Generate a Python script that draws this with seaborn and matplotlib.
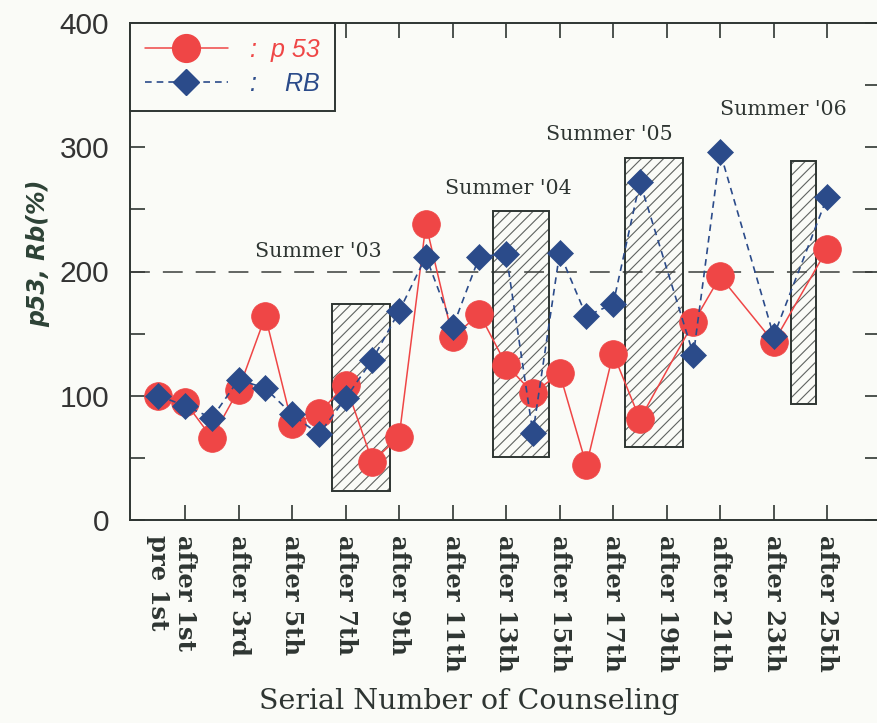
import numpy as np
import seaborn as sns
import matplotlib.pyplot as plt
from matplotlib.lines import Line2D
from matplotlib.ticker import MultipleLocator

# counseling sessions (0 = pre 1st, k = after k-th); 19, 22, 24 were not measured
session = [0, 1, 2, 3, 4, 5, 6, 7, 8, 9, 10, 11, 12, 13, 14, 15, 16, 17, 18, 20, 21, 23, 25]
p53 = [100, 95, 66, 105, 164, 77, 86, 109, 47, 67, 238, 147, 166, 125, 102, 118, 44, 134, 81, 159, 196, 143, 218]
rb = [100, 92, 82, 113, 106, 85, 69, 98, 129, 168, 212, 155, 212, 214, 70, 215, 164, 174, 272, 133, 296, 148, 260]

tick_pos = [0, 1, 3, 5, 7, 9, 11, 13, 15, 17, 19, 21, 23, 25]
tick_labels = ["pre 1st", "after 1st", "after 3rd", "after 5th", "after 7th", "after 9th",
               "after 11th", "after 13th", "after 15th", "after 17th", "after 19th",
               "after 21th", "after 23th", "after 25th"]

# summer periods (shaded boxes)
summer_names = ["Summer '03", "Summer '04", "Summer '05", "Summer '06"]
summer_start = [6.5, 12.5, 17.45, 23.65]
summer_end = [8.65, 14.62, 19.6, 24.6]
summer_low = [23, 51, 59, 93]
summer_high = [174, 249, 291, 289]
summer_text_x = [5.98, 13.07, 16.85, 23.35]
summer_text_y = [216, 267, 310, 330]

bg = "#fafbf7"
ink = "#2e3532"
red = "#ef4646"
blue = "#2b4b8a"

sns.set_theme(style="ticks")
plt.rcParams["font.family"] = ["DejaVu Sans"]
plt.rcParams["hatch.linewidth"] = 0.8
sans = ["Liberation Sans", "DejaVu Sans"]

fig = plt.figure(figsize=(8.77, 7.23), dpi=100, facecolor=bg)
ax = fig.add_axes([130 / 877, 1 - 520 / 723, 1.003 - 130 / 877, 497 / 723])
ax.set_facecolor(bg)

# summer boxes
widths = np.array(summer_end) - np.array(summer_start)
heights = np.array(summer_high) - np.array(summer_low)
ax.bar(summer_start, heights, width=widths, bottom=summer_low, align="edge",
       color=bg, edgecolor="#5f6360", linewidth=0, hatch="///", zorder=1)
ax.bar(summer_start, heights, width=widths, bottom=summer_low, align="edge",
       fill=False, edgecolor=ink, linewidth=1.4, zorder=1.5)

ax.axhline(200, color="#3a3d3b", linewidth=1.1, linestyle=(0, (13, 8.5)), zorder=1.2)

sns.lineplot(x=session, y=p53, ax=ax, color=red, linewidth=1.1, marker="o",
             markersize=20, markeredgecolor=red, markeredgewidth=0.5, zorder=3)
sns.lineplot(x=session, y=rb, ax=ax, color=blue, linewidth=1.2, linestyle=(0, (4, 3)),
             marker="D", markersize=13, markeredgecolor=blue, markeredgewidth=0.5, zorder=4)

for name, tx, ty in zip(summer_names, summer_text_x, summer_text_y):
    ax.text(tx, ty, name, ha="center", va="center", fontsize=14.8,
            family="DejaVu Serif", color=ink, zorder=5)

ax.set_xlim(-1.06, 26.96)
ax.set_ylim(0, 400)
ax.set_yticks([0, 100, 200, 300, 400])
ax.yaxis.set_minor_locator(MultipleLocator(50))
ax.set_xticks(tick_pos)
ax.set_xticklabels(tick_labels, rotation=-90, fontsize=17.5, family="DejaVu Serif",
                   fontweight="bold", color=ink)
for lab in ax.get_yticklabels():
    lab.set_family(sans)
    lab.set_fontsize(21.5)
    lab.set_color("#333333")

ax.tick_params(axis="both", which="both", direction="in", length=11, width=1.2,
               color=ink, top=True, right=True)
ax.tick_params(axis="x", pad=11)
ax.tick_params(axis="y", pad=15)
first = ax.xaxis.get_major_ticks()[0]
first.tick1line.set_visible(False)
first.tick2line.set_visible(False)

for sp in ax.spines.values():
    sp.set_color(ink)
    sp.set_linewidth(1.4)

ax.set_xlabel("Serial Number of Counseling", fontsize=20.5, family="DejaVu Serif", color=ink)
ax.xaxis.set_label_coords(0.452, -0.338)
ax.set_ylabel("p53, Rb(%)", fontsize=17, fontweight="bold", fontstyle="italic", color="#2d4236")
ax.yaxis.set_label_coords(-0.107, 0.537)

handles = [
    Line2D([], [], color=red, linewidth=1.1, marker="o", markersize=20, markeredgecolor=red),
    Line2D([], [], color=blue, linewidth=1.2, linestyle=(0, (4, 3)), marker="D",
           markersize=13, markeredgecolor=blue),
]
leg = ax.legend(handles, [":  p 53", ":    RB"], loc="upper left", bbox_to_anchor=(0, 1),
                borderaxespad=0, frameon=True, fancybox=False, edgecolor=ink, facecolor=bg,
                framealpha=1, handlelength=3.3, handletextpad=0.9, labelspacing=0.4,
                borderpad=0.6, labelcolor=[red, blue],
                prop={"family": sans, "style": "italic", "size": 18})
leg.get_frame().set_linewidth(1.4)
leg.set_zorder(10)

fig.savefig("out.png", dpi=100, facecolor=bg)
